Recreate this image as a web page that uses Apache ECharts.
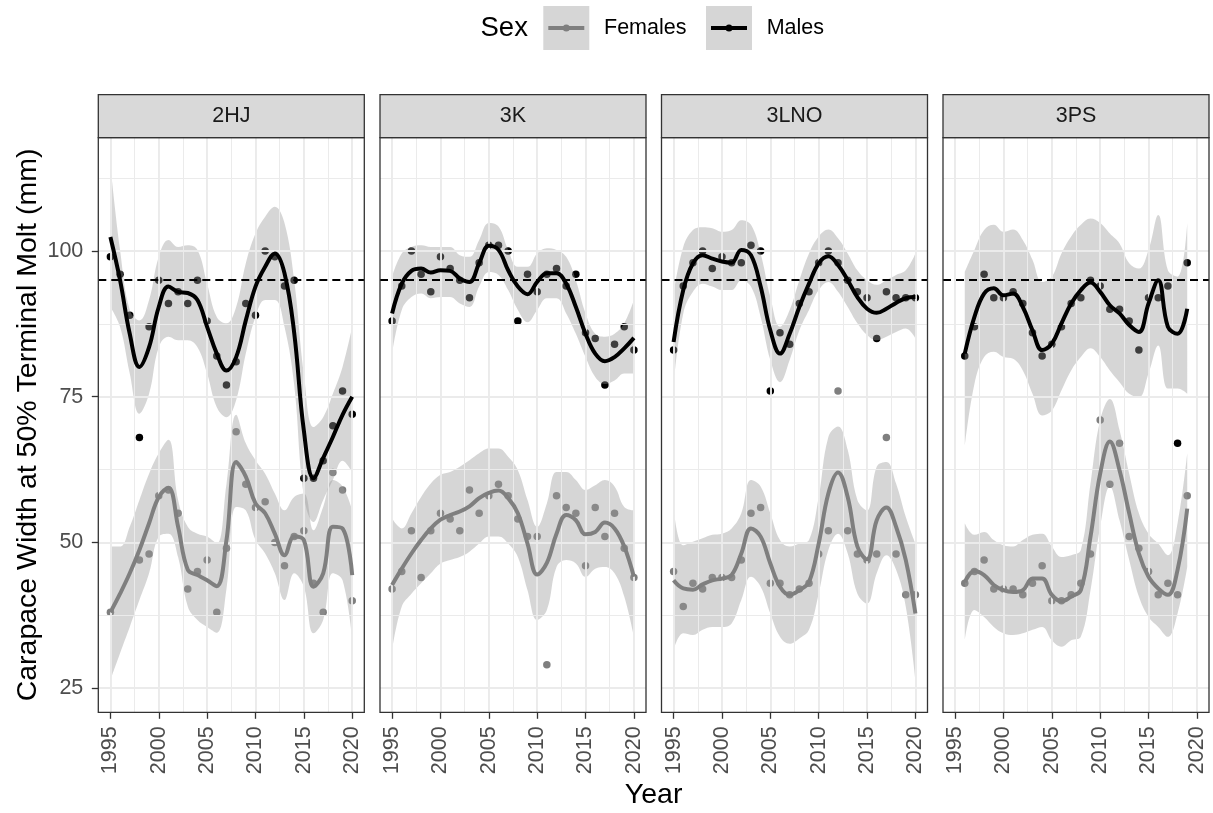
<!DOCTYPE html>
<html><head><meta charset="utf-8">
<script src="https://cdn.jsdelivr.net/npm/echarts@6/dist/echarts.min.js"></script>
<style>html,body{margin:0;padding:0;background:#fff}#c{width:1213px;height:813px}</style>
</head><body><div id="c"></div>
<script>
// ---------- data ----------
const regions = ['2HJ', '3K', '3LNO', '3PS'];
const yearsA = [1995,1996,1997,1998,1999,2000,2001,2002,2003,2004,2005,2006,2007,2008,2009,2010,2011,2012,2013,2014,2015,2016,2017,2018,2019,2020];
const yearsB = [1996,1997,1998,1999,2000,2001,2002,2003,2004,2005,2006,2007,2008,2009,2010,2011,2012,2013,2014,2015,2016,2017,2018,2019];
const xTicks = [1995, 2000, 2005, 2010, 2015, 2020];
const yTicks = [25, 50, 75, 100];
const refLine = 95;

// 2HJ
const m2HJ     = [99,96,89,68,87,95,91,93,91,95,88,82,77,81,91,89,100,99,94,95,61,61,64,70,76,72];
const m2HJ_fit = [102.4,95,85.8,80.1,83.5,90.4,93.9,93,92.8,91.6,87,82.4,79.5,81.8,88.1,93.9,97.3,99.6,96.2,86,69.2,61,64.5,68.1,71.9,75];
const m2HJ_lo  = [90.4,87,79,72.1,75.5,83.5,85.3,84.7,84.7,83.5,79,73.2,71.5,74.4,82.4,88.7,91.6,91.6,87,77,58,53.5,57.3,60.7,64,62];
const m2HJ_hi  = [114.8,100.2,89.9,88.1,91.6,99,101.9,100.7,101,100.2,94.4,88.7,87.6,90.4,97.9,103,105.9,107.6,104.8,95,79,69.8,71.5,75.5,80.1,87];
const f2HJ     = [38,null,null,47,48,58,59,55,42,45,47,38,49,69,60,56,57,50,46,51,52,43,38,62,59,40];
const f2HJ_fit = [38,41.2,44.7,48.7,53.3,57.8,59.4,52.7,45.3,44.4,43.5,42.5,50.4,63.8,61.3,56.7,55,51.5,47.8,51,50.4,42.4,44.7,52.7,52.4,44.4];
const f2HJ_lo  = [26.4,31,35.5,40.1,44.7,51,51.5,47.5,39,36.7,35.5,34.5,42,56.1,55.5,50.4,48.1,44.7,40.1,44.7,42.4,34.4,36.7,44.7,43.5,33.2];
const f2HJ_hi  = [49.3,49.3,52.7,57.3,61.8,65.3,67.6,57.3,52.7,51.5,51,49.8,60,71.9,67,64.1,61.8,58.4,55.5,57.8,58.4,52.1,56.1,60.7,59.6,55.5];

// 3K
const m3K     = [88,94,100,96,93,99,97,95,92,98,101,101,100,88,96,93,96,97,94,96,86,85,77,84,87,83];
const m3K_fit = [89.3,94.4,96.6,97,96.3,96.7,96.6,95.3,94.7,97.9,100.9,100.2,96.7,93.9,92.6,94.7,96.2,96.2,94.4,90.4,85.8,82.4,81.1,81.8,83.3,85.1];
const m3K_lo  = [82.4,89.9,92.1,92.7,91.9,92.1,92.1,91,90.4,93.9,96.4,95.9,93.3,89.9,87.8,89.9,91.9,91.9,89.3,85.8,81.8,78.4,77.2,77.8,79,79];
const m3K_hi  = [95.6,99.6,100.7,101,100.7,100.7,100.7,99.3,99,101.9,104.8,104.2,100.2,97.3,97.3,99.6,100.5,100.2,99,95,89.3,85.8,85.3,85.8,87.6,91.6];
const f3K     = [42,45,52,44,52,55,54,52,59,55,58,60,58,54,51,51,29,58,56,55,46,56,51,55,49,44];
const f3K_fit = [42.7,45.5,48.1,50.4,52.4,53.9,54.7,55.3,56.2,57.6,58.5,58.9,57.6,55,49.8,44.5,46.5,51.5,54.7,53.8,51.4,51.8,53.4,52.4,49.3,44.1];
const f3K_lo  = [31.5,39,41.2,43,44.7,46.4,47,47.5,48.4,49.8,51,51,49.8,47.5,41.8,36.7,38.4,45.8,47,46.4,44.1,45.5,45.8,44.7,40.7,33.8];
const f3K_hi  = [54.1,52.4,55,57.8,60.1,61.6,62.1,63,64.1,65.3,66.1,66.1,64.7,62.4,57.3,52.7,56.7,62.1,62.1,60.7,59,59.8,60.7,59.6,56.1,55.5];

// 3LNO
const m3LNO     = [83,94,98,100,97,99,98,98,101,100,76,86,84,91,93,98,100,98,95,93,92,85,93,92,92,92];
const m3LNO_fit = [84.4,93.3,97.9,99.3,98.7,98.2,98,100.2,99.3,93.9,86.4,82.4,85.8,90.4,94.4,97.9,99.1,97.6,95,92.1,90.1,89.4,90.1,91.1,91.9,92.1];
const m3LNO_lo  = [77.2,89.3,93,94.4,93.9,93.3,93.3,95,93.9,88.7,81.3,77.5,81.3,86.4,89.9,93.3,94.7,93,90.4,87.6,85.6,84.7,85.3,86.1,86.7,85];
const m3LNO_hi  = [92.7,100.7,103.6,104.1,103.9,103.3,103.6,105.3,104.5,99.6,92.1,87,89.9,95,99.6,102.5,103.7,102.2,99.6,96.7,95,94.2,95,95.9,96.7,99.6];
const f3LNO     = [45,39,43,42,44,44,44,47,55,56,43,43,41,42,43,48,52,76,52,48,47,48,68,48,41,41];
const f3LNO_fit = [43.5,42.1,41.9,42.8,43.5,43.8,44.4,48.1,52.4,51,46.4,42.4,41,41.8,43.2,49.8,58.4,62,57.8,49.3,47.1,53.8,56,52.7,47,37.8];
const f3LNO_lo  = [31.5,34.4,34.1,35,35.5,35.5,36.1,40.1,44.1,42.4,37.8,33.8,32.6,33.5,35,41.2,48.7,51.5,48.1,41.2,39.5,44.7,47.8,45.3,39,26.4];
const f3LNO_hi  = [56.1,49.5,50.1,50.7,51.3,51.5,52.4,55,60.7,59.6,55,50.4,49.3,49.8,50.4,57.8,68.1,69.9,65.9,57.3,55.5,63,63.8,60.1,54.4,49.8];

// 3PS (1996-2019)
const m3PS     = [82,87,96,92,92,93,91,86,82,84,87,91,92,95,94,90,90,88,83,92,92,94,67,98];
const m3PS_fit = [82.4,88.7,92.7,93.6,92.4,92.7,90.4,86.4,83,84.1,87.6,91,93.3,94.6,93,90.7,89.3,87.3,86.1,91,95,87,85.8,90.1];
const m3PS_lo  = [66.5,77.2,81.8,82.7,81.8,81.5,79.5,75.5,71.8,72.6,76.1,79.5,81.8,83.3,81.8,79.5,77.5,75.5,74.9,79,83.8,76.4,76.4,75.5];
const m3PS_hi  = [96.4,100.2,103.6,104.5,103.3,103.7,101.9,98.5,94.7,95.6,99.6,102.5,104.5,105.6,104.8,103,101.3,97.9,97,100.2,106.2,96.7,95.6,104.8];
const f3PS     = [43,45,47,42,42,42,41,43,46,40,40,41,43,48,71,60,67,51,49,45,41,43,41,58];
const f3PS_fit = [43.2,45.1,44.4,42.7,41.8,41.5,41.8,43.8,43.8,41,39.9,40.7,41.8,51,61.8,67.3,62.4,55,48.1,44.1,42.1,41,45.3,55.8];
const f3PS_lo  = [33.2,38.4,37.2,35.5,34.4,34.1,34.4,35,35.5,33.2,32.1,33.2,33.8,41.8,52.7,59.6,53.8,47,40.7,37.2,35.5,33.8,37.8,45.8];
const f3PS_hi  = [53.3,51.3,51.8,50.4,49.5,49.3,50.4,51.3,51.5,49.3,47.5,47.8,48.7,60.1,71,74.6,69.3,61.8,55,51.5,49.8,47.8,53.3,65.3];

// ---------- assemble ----------
const panels = [
  {x: yearsA, m: m2HJ, mf: m2HJ_fit, ml: m2HJ_lo, mh: m2HJ_hi, f: f2HJ, ff: f2HJ_fit, fl: f2HJ_lo, fh: f2HJ_hi},
  {x: yearsA, m: m3K, mf: m3K_fit, ml: m3K_lo, mh: m3K_hi, f: f3K, ff: f3K_fit, fl: f3K_lo, fh: f3K_hi},
  {x: yearsA, m: m3LNO, mf: m3LNO_fit, ml: m3LNO_lo, mh: m3LNO_hi, f: f3LNO, ff: f3LNO_fit, fl: f3LNO_lo, fh: f3LNO_hi},
  {x: yearsB, m: m3PS, mf: m3PS_fit, ml: m3PS_lo, mh: m3PS_hi, f: f3PS, ff: f3PS_fit, fl: f3PS_lo, fh: f3PS_hi}
];

const FONT = "'Liberation Sans', Arial, sans-serif";
const lefts = [98.3, 380, 661.5, 943];
const PW = 266, TOP = 137.7, PH = 574.6;
const STRIP_TOP = 94.7;
const XMIN = 1993.75, XMAX = 2021.25, YMIN = 20.85, YMAX = 119.45;
const FEM = '#7F7F7F', MAL = '#000000', BAND = 'rgba(153,153,153,0.4)';
const SMALL = 21.5, LEGT = 27.5, AXT = 28.5;

const pairs = (xs, ys) => xs.map((x, i) => [x, ys[i]]).filter(p => p[1] != null);
// band rows are [value, year] so that the value column is the stacked one
const bandLo = (xs, lo) => xs.map((x, i) => [lo[i], x]);
const bandDiff = (xs, lo, hi) => xs.map((x, i) => [+(hi[i] - lo[i]).toFixed(3), x]);

const grids = [], xAxes = [], yAxes = [], series = [], graphics = [];
const majorX = [1995, 2000, 2005, 2010, 2015, 2020], minorX = [1997.5, 2002.5, 2007.5, 2012.5, 2017.5];
const majorY = [25, 50, 75, 100], minorY = [37.5, 62.5, 87.5, 112.5];

panels.forEach((p, i) => {
  grids.push({left: lefts[i], top: TOP, width: PW, height: PH, show: false});
  xAxes.push({
    type: 'value', gridIndex: i, min: XMIN, max: XMAX,
    axisLine: {show: false}, splitLine: {show: false},
    axisTick: {show: true, customValues: xTicks, length: 6.5, lineStyle: {color: '#333333', width: 1.3}},
    axisLabel: {show: true, customValues: xTicks, rotate: 90, margin: 14, fontSize: SMALL, color: '#4D4D4D', fontFamily: FONT,
      formatter: v => String(v)}
  });
  yAxes.push({
    type: 'value', gridIndex: i, min: YMIN, max: YMAX,
    axisLine: {show: false}, splitLine: {show: false},
    axisTick: {show: i === 0, customValues: yTicks, length: 6.5, lineStyle: {color: '#333333', width: 1.3}},
    axisLabel: {show: i === 0, customValues: yTicks, margin: 15, fontSize: SMALL, color: '#4D4D4D', fontFamily: FONT,
      formatter: v => String(v)}
  });
  const ax = {xAxisIndex: i, yAxisIndex: i};
  // gridlines
  const gl = [];
  minorX.forEach(v => gl.push({xAxis: v, lineStyle: {color: '#EBEBEB', width: 1, type: 'solid'}}));
  minorY.forEach(v => gl.push({yAxis: v, lineStyle: {color: '#EBEBEB', width: 1, type: 'solid'}}));
  majorX.forEach(v => gl.push({xAxis: v, lineStyle: {color: '#EBEBEB', width: 1.9, type: 'solid'}}));
  majorY.forEach(v => gl.push({yAxis: v, lineStyle: {color: '#EBEBEB', width: 1.9, type: 'solid'}}));
  series.push(Object.assign({type: 'line', data: [], z: 1, silent: true,
    markLine: {silent: true, symbol: ['none', 'none'], label: {show: false}, animation: false, data: gl}}, ax));
  // points
  series.push(Object.assign({type: 'scatter', name: 'Females', data: pairs(p.x, p.f), symbol: 'circle', symbolSize: 7.5,
    itemStyle: {color: FEM, borderWidth: 0, opacity: 1}, z: 2, silent: true}, ax));
  series.push(Object.assign({type: 'scatter', name: 'Males', data: pairs(p.x, p.m), symbol: 'circle', symbolSize: 7.5,
    itemStyle: {color: MAL, borderWidth: 0, opacity: 1}, z: 2, silent: true}, ax));
  // bands (stacked: lower edge + width)
  [['f', p.fl, p.fh], ['m', p.ml, p.mh]].forEach(([k, lo, hi]) => {
    const st = 'band' + k + i;
    series.push(Object.assign({type: 'line', stack: st, data: bandLo(p.x, lo), encode: {x: 1, y: 0},
      smooth: 0.4, showSymbol: false, symbol: 'none', lineStyle: {opacity: 0, width: 0}, z: 3, silent: true}, ax));
    series.push(Object.assign({type: 'line', stack: st, data: bandDiff(p.x, lo, hi), encode: {x: 1, y: 0},
      smooth: 0.4, showSymbol: false, symbol: 'none', lineStyle: {opacity: 0, width: 0},
      areaStyle: {color: BAND, opacity: 1}, z: 3, silent: true}, ax));
  });
  // reference line
  series.push(Object.assign({type: 'line', data: [], z: 4, silent: true,
    markLine: {silent: true, symbol: ['none', 'none'], label: {show: false}, animation: false,
      data: [{yAxis: refLine, lineStyle: {color: '#000', width: 1.9, type: [8, 5]}}]}}, ax));
  // fitted lines
  series.push(Object.assign({type: 'line', data: pairs(p.x, p.ff), smooth: 0.4, showSymbol: false, symbol: 'none',
    lineStyle: {color: FEM, width: 4}, z: 5, silent: true}, ax));
  series.push(Object.assign({type: 'line', data: pairs(p.x, p.mf), smooth: 0.4, showSymbol: false, symbol: 'none',
    lineStyle: {color: MAL, width: 4}, z: 6, silent: true}, ax));

  // panel border and strip
  graphics.push({type: 'rect', z: 100, shape: {x: lefts[i], y: TOP, width: PW, height: PH},
    style: {fill: null, stroke: '#333333', lineWidth: 1.3}});
  graphics.push({type: 'rect', z: 100, shape: {x: lefts[i], y: STRIP_TOP, width: PW, height: TOP - STRIP_TOP},
    style: {fill: '#D9D9D9', stroke: '#333333', lineWidth: 1.3}});
  graphics.push({type: 'text', z: 101, x: lefts[i] + PW / 2, y: (STRIP_TOP + TOP) / 2,
    style: {text: regions[i], fill: '#1A1A1A', font: SMALL + 'px ' + FONT, textAlign: 'center', textVerticalAlign: 'middle'}});
});

// axis titles
graphics.push({type: 'text', z: 101, x: 28, y: TOP + PH / 2, rotation: Math.PI / 2,
  style: {text: 'Carapace Width at 50% Terminal Molt (mm)', fill: '#000', font: AXT + 'px ' + FONT, textAlign: 'center', textVerticalAlign: 'middle'}});
graphics.push({type: 'text', z: 101, x: (lefts[0] + lefts[3] + PW) / 2, y: 795,
  style: {text: 'Year', fill: '#000', font: AXT + 'px ' + FONT, textAlign: 'center', textVerticalAlign: 'middle'}});

// legend
const LY = 28;
graphics.push({type: 'text', z: 101, x: 480.5, y: LY, style: {text: 'Sex', fill: '#000', font: LEGT + 'px ' + FONT, textAlign: 'left', textVerticalAlign: 'middle'}});
[['Females', FEM, 543.3, 604], ['Males', MAL, 706, 766.7]].forEach(([lab, col, kx, tx]) => {
  graphics.push({type: 'rect', z: 100, shape: {x: kx, y: 6, width: 46, height: 44}, style: {fill: '#D6D6D6'}});
  graphics.push({type: 'line', z: 101, shape: {x1: kx + 5, y1: LY, x2: kx + 41, y2: LY}, style: {stroke: col, lineWidth: 4}});
  graphics.push({type: 'circle', z: 102, shape: {cx: kx + 23, cy: LY, r: 3.5}, style: {fill: col}});
  graphics.push({type: 'text', z: 101, x: tx, y: LY, style: {text: lab, fill: '#000', font: SMALL + 'px ' + FONT, textAlign: 'left', textVerticalAlign: 'middle'}});
});

const chart = echarts.init(document.getElementById('c'), null, {renderer: 'canvas'});
chart.setOption({
  animation: false,
  backgroundColor: '#ffffff',
  grid: grids, xAxis: xAxes, yAxis: yAxes, series: series, graphic: graphics
});
</script></body></html>
